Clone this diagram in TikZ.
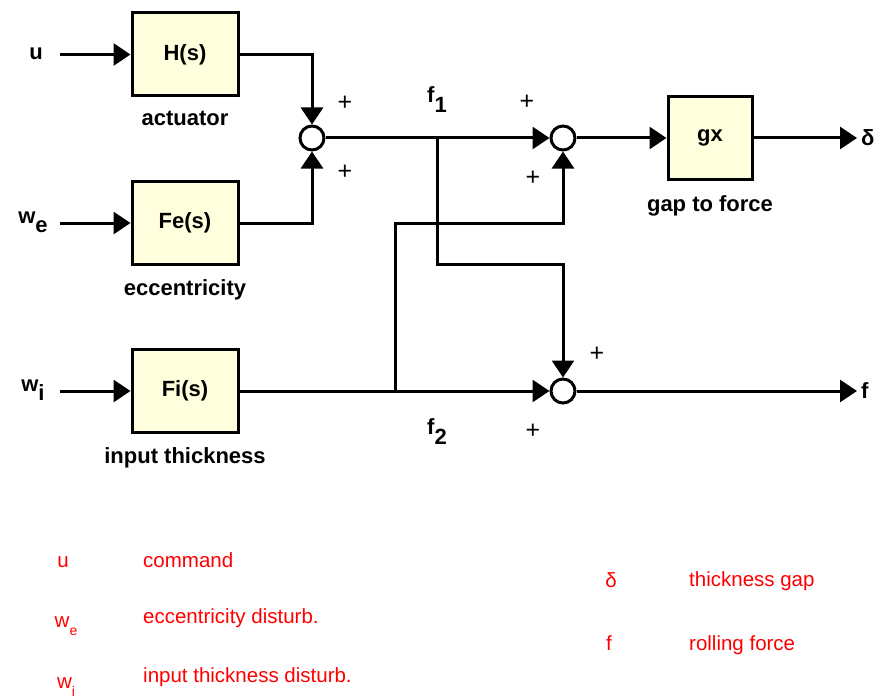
\documentclass[tikz,border=0pt]{standalone}
\usepackage{fontspec}
\setmainfont{Liberation Sans}
\usetikzlibrary{arrows.meta,positioning,calc}
\definecolor{boxfill}{RGB}{255,255,222}
\definecolor{legred}{RGB}{255,0,0}

\begin{document}
\begin{tikzpicture}[
  x=1pt, y=-1pt,
  font=\fontsize{22}{26}\selectfont\bfseries,
  block/.style={rectangle, draw, line width=3pt, fill=boxfill, minimum width=106pt, minimum height=83pt, inner sep=0pt},
  sumnode/.style={circle, draw, line width=3pt, minimum size=24pt, inner sep=0pt, fill=white},
  lbl/.style={inner sep=0pt},
  sgn/.style={font=\fontsize{25}{28}\selectfont, inner sep=0pt},
  leg/.style={font=\fontsize{20.5}{24}\selectfont, text=legred, inner sep=0pt},
  arr/.style={-{Triangle[length=17pt,width=22pt]}, line width=3pt},
  wire/.style={line width=3pt},
]
\useasboundingbox (0,0) rectangle (886,698);

% blocks
\node[block] (H) at (185,54.5) {H(s)};
\node[lbl, below=13pt of H] (actlbl) {actuator};
\node[block] (Fe) at (185,223) {Fe(s)};
\node[lbl, below=13pt of Fe] (ecclbl) {eccentricity};
\node[block] (Fi) at (185,391) {Fi(s)};
\node[lbl, below=13pt of Fi] (inplbl) {input thickness};
\node[block, minimum width=84pt] (gx) at (710,138) {gx};
\node[lbl, below=14pt of gx] (gaplbl) {gap to force};

% summing points
\node[sumnode] (s1) at (312,138) {};
\node[sumnode] (s2) at (563,138) {};
\node[sumnode] (s3) at (563,391) {};

% inputs
\node[lbl] (u) at (36,54) {u};
\node[lbl] (we) at (33,222) {w\raisebox{-9pt}{e}};
\node[lbl] (wi) at (33,390) {w\raisebox{-9pt}{i}};
\coordinate (uin) at (60,54.5);
\coordinate (wein) at (60,223);
\coordinate (wiin) at (60,391);
\draw[arr] (uin) -- (H);
\draw[arr] (wein) -- (Fe);
\draw[arr] (wiin) -- (Fi);

% first sum
\draw[arr] (H.east) -| (s1);
\draw[arr] (Fe.east) -| (s1);
\node[sgn] at (345,103) {+};
\node[sgn] at (345,172) {+};

% f1 and f2 paths
\coordinate (b1) at (437,138);
\coordinate (b2) at (395,391);
\draw[arr] (s1) -- (s2);
\draw[arr] (Fi) -- (s3);
\draw[arr] (b1) -- ++(0,126) -| (s3);
\draw[arr] (b2) -- ++(0,-168) -| (s2);
\node[lbl] (f1) at (437,100) {f\raisebox{-10pt}{1}};
\node[lbl] (f2) at (437,432) {f\raisebox{-10pt}{2}};
\node[sgn] at (527,102) {+};
\node[sgn] at (533,178) {+};
\node[sgn] at (597,354) {+};
\node[sgn] at (533,431) {+};

% outputs
\coordinate (dout) at (857,138);
\coordinate (fout) at (857,391);
\draw[arr] (s2) -- (gx);
\draw[arr] (gx) -- (dout);
\draw[arr] (s3) -- (fout);
\node[lbl, right=4pt of dout] (delta) {δ};
\node[lbl, right=4pt of fout] (fo) {f};

% legend
\node[leg, anchor=base] (lu) at (63,567) {u};
\node[leg, anchor=base west] (lcmd) at (143,567) {command};
\node[leg, anchor=base] (lwe) at (66,627) {w\raisebox{-8pt}{\fontsize{14}{16}\selectfont e}};
\node[leg, anchor=base west] (lecc) at (143,623) {eccentricity disturb.};
\node[leg, anchor=base] (lwi) at (66,688) {w\raisebox{-8pt}{\fontsize{14}{16}\selectfont i}};
\node[leg, anchor=base west] (linp) at (143,682) {input thickness disturb.};
\node[leg, anchor=base] (ld) at (611,587) {δ};
\node[leg, anchor=base west] (lgap) at (689,586) {thickness gap};
\node[leg, anchor=base] (lf) at (609,650) {f};
\node[leg, anchor=base west] (lroll) at (689,650) {rolling force};
\end{tikzpicture}
\end{document}
